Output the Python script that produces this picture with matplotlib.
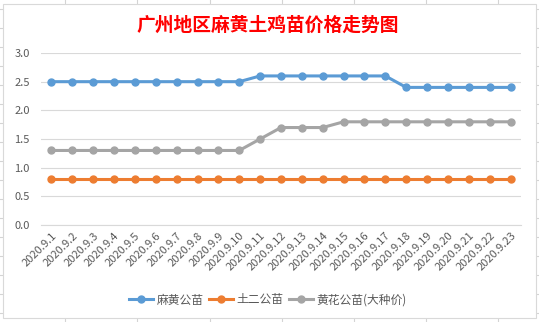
import matplotlib
matplotlib.use('Agg')
import matplotlib.pyplot as plt
from matplotlib.lines import Line2D
from matplotlib.patches import Rectangle

plt.rcParams['font.family'] = ['Noto Sans CJK SC', 'DejaVu Sans']

# data
dates = ['2020.9.%d' % d for d in range(1, 24)]
mahuang = [2.5] * 10 + [2.6] * 7 + [2.4] * 6
tuer = [0.8] * 23
huanghua = [1.3] * 10 + [1.5] + [1.7] * 3 + [1.8] * 9
names = ['麻黄公苗', '土二公苗', '黄花公苗(大种价)']
colors = ['#5B9BD5', '#ED7D31', '#A5A5A5']

W, H = 539, 322
fig = plt.figure(figsize=(W / 100, H / 100), dpi=100)
fig.patch.set_facecolor('white')

# spreadsheet grid peeking around the chart
for x in [65, 137, 210, 282, 354, 426, 498]:
    fig.add_artist(Line2D([x / W, x / W], [1, 1 - 3 / H], color='#D4D4D4', lw=0.8, zorder=-5))
    fig.add_artist(Line2D([x / W, x / W], [0, 4 / H], color='#D4D4D4', lw=0.8, zorder=-5))
for y in range(9, 322, 19):
    fig.add_artist(Line2D([0, 3 / W], [1 - y / H, 1 - y / H], color='#D4D4D4', lw=0.8, zorder=-5))
    fig.add_artist(Line2D([1 - 3 / W, 1], [1 - y / H, 1 - y / H], color='#D4D4D4', lw=0.8, zorder=-5))
fig.add_artist(Rectangle((3 / W, 4 / H), 533 / W, 314 / H, fill=True, facecolor='white',
                         edgecolor='#D9D9D9', lw=0.8, zorder=-4))

ax = fig.add_axes([41 / W, 1 - 225 / H, 480 / W, 172 / H])
x = list(range(len(dates)))
for vals, nm, c in zip([mahuang, tuer, huanghua], names, colors):
    ax.plot(x, vals, color=c, lw=2.2, marker='o', ms=5, label=nm)

ax.set_ylim(0, 3.0)
ax.set_yticks([0, 0.5, 1.0, 1.5, 2.0, 2.5, 3.0])
ax.set_yticklabels(['%.1f' % v for v in [0, 0.5, 1.0, 1.5, 2.0, 2.5, 3.0]])
ax.set_xlim(-0.5, len(dates) - 0.5)
ax.set_xticks(x)
ax.set_xticklabels(dates, rotation=45, ha='right', rotation_mode='anchor')
ax.grid(axis='y', color='#D9D9D9', lw=0.8)
ax.set_axisbelow(True)
for s in ['top', 'right', 'left']:
    ax.spines[s].set_visible(False)
ax.spines['bottom'].set_color('#D9D9D9')
ax.tick_params(axis='both', length=0, labelsize=8, colors='#595959')
ax.tick_params(axis='x', pad=4)
ax.tick_params(axis='y', pad=8)
ax.set_facecolor('none')

fig.text(268 / W, 1 - 25 / H, '广州地区麻黄土鸡苗价格走势图', color='red', fontsize=13.5,
         fontweight='bold', ha='center', va='center')

fig.legend(loc='center', bbox_to_anchor=(268 / W, 1 - 300 / H), ncol=3, frameon=False,
           fontsize=8.5, handlelength=2.0, columnspacing=0.5, handletextpad=0.3,
           labelcolor='#595959')

fig.savefig('out.png', dpi=100)
